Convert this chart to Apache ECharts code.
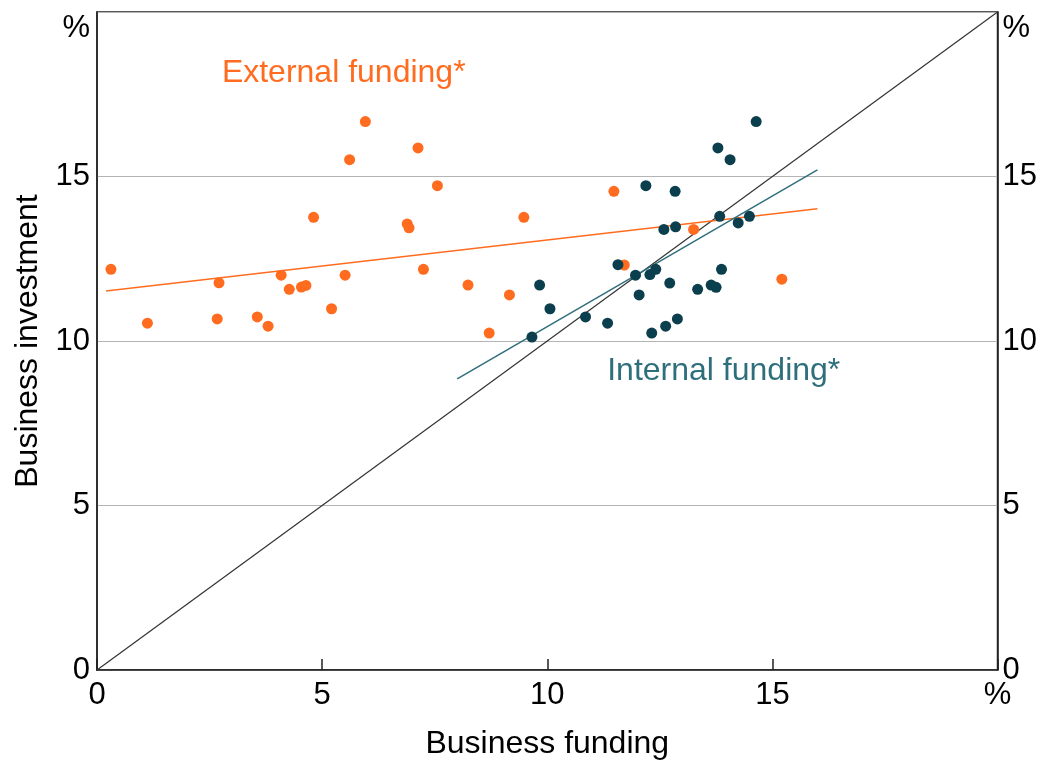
<!DOCTYPE html>
<html>
<head>
<meta charset="utf-8">
<script src="https://cdn.jsdelivr.net/npm/echarts@6/dist/echarts.min.js"></script>
<style>
html,body{margin:0;padding:0;background:#fff;}
#chart{width:1040px;height:765px;}
</style>
</head>
<body>
<div id="chart"></div>
<script>
// Business funding (x, %) vs business investment (y, %)
const externalFunding = [
  [0.31,12.18],[1.12,10.54],[2.71,11.77],[2.67,10.67],[3.56,10.73],[3.80,10.45],
  [4.09,12.00],[4.27,11.57],[4.54,11.64],[4.64,11.69],[4.81,13.76],[5.21,10.98],
  [5.51,12.00],[5.61,15.51],[5.96,16.67],[6.89,13.56],[6.93,13.44],[7.13,15.87],
  [7.25,12.18],[7.56,14.72],[8.24,11.70],[8.71,10.24],[9.16,11.40],[9.48,13.76],
  [11.48,14.55],[11.71,12.31],[13.25,13.39],[15.21,11.88]
];
const internalFunding = [
  [14.64,16.67],[13.79,15.87],[14.06,15.51],[12.19,14.72],[12.84,14.55],[13.83,13.79],
  [12.59,13.39],[12.85,13.47],[14.24,13.59],[14.49,13.79],[11.57,12.32],[11.96,12.00],
  [12.28,12.02],[12.41,12.18],[13.87,12.18],[12.72,11.76],[12.04,11.40],[13.34,11.57],
  [13.64,11.70],[13.75,11.63],[9.83,11.70],[10.06,10.98],[10.85,10.73],[11.34,10.54],
  [12.89,10.67],[12.63,10.45],[12.32,10.24],[9.66,10.12]
];
const externalFit = [[0.2,11.52],[16,14.02]];
const internalFit = [[8,8.85],[16,15.2]];
const diagonal = [[0,0],[20,20]];
const xTicks = {0:'0',5:'5',10:'10',15:'15',20:'%'};
const yTicks = {0:'0',5:'5',10:'10',15:'15',20:'%'};
const externalLabelPos = [[5.48,18.13]];
const internalLabelPos = [[13.92,9.09]];

const ORANGE = '#ff6c1f';
const DARK = '#0b3f4d';
const TEAL = '#2f6f7c';
const FONT = '"Liberation Sans", Arial, sans-serif';

const chart = echarts.init(document.getElementById('chart'));
function yFmt(v){ return v === 20 ? '{p|%}' : (yTicks[v] !== undefined ? yTicks[v] : ''); }
const yLabel = {
  fontSize: 31, color: '#000', fontFamily: FONT,
  formatter: yFmt,
  rich: { p: { fontSize: 31, color: '#000', fontFamily: FONT, padding: [32,0,0,0] } }
};
chart.setOption({
  animation: false,
  backgroundColor: '#fff',
  grid: { left: 97, right: 42, top: 12, bottom: 91, show: true, borderColor: '#222', borderWidth: 1.5, containLabel: false },
  xAxis: {
    type: 'value', min: 0, max: 20, interval: 5,
    axisLine: { show: true, lineStyle: { color: '#222', width: 1.5 } },
    axisTick: { show: true, inside: true, length: 11, lineStyle: { color: '#222', width: 1.5 } },
    axisLabel: { fontSize: 31, color: '#000', fontFamily: FONT, margin: 10, formatter: v => xTicks[v] !== undefined ? xTicks[v] : '' },
    splitLine: { show: false },
    name: 'Business funding', nameLocation: 'middle', nameGap: 58,
    nameTextStyle: { fontSize: 32, color: '#000', fontFamily: FONT }
  },
  yAxis: [
    {
      type: 'value', min: 0, max: 20, interval: 5, position: 'left',
      axisLine: { show: true, lineStyle: { color: '#222', width: 1.5 } },
      axisTick: { show: false },
      axisLabel: Object.assign({ margin: 7 }, yLabel),
      splitLine: { show: true, lineStyle: { color: '#b4b4b4', width: 1.2 } },
      name: 'Business investment', nameLocation: 'middle', nameGap: 50, nameRotate: 90,
      nameTextStyle: { fontSize: 32, color: '#000', fontFamily: FONT }
    },
    {
      type: 'value', min: 0, max: 20, interval: 5, position: 'right',
      axisLine: { show: true, lineStyle: { color: '#222', width: 1.5 } },
      axisTick: { show: false },
      axisLabel: Object.assign({ margin: 5 }, yLabel),
      splitLine: { show: false }
    }
  ],
  series: [
    { type: 'line', data: diagonal, symbol: 'none', lineStyle: { color: '#333', width: 1.2 }, z: 1 },
    { type: 'line', data: externalFit, symbol: 'none', lineStyle: { color: ORANGE, width: 1.5 }, z: 2 },
    { type: 'line', data: internalFit, symbol: 'none', lineStyle: { color: TEAL, width: 1.5 }, z: 2 },
    { type: 'scatter', data: externalFunding, symbolSize: 11, itemStyle: { color: ORANGE, opacity: 1 }, z: 3 },
    { type: 'scatter', data: internalFunding, symbolSize: 11, itemStyle: { color: DARK, opacity: 1 }, z: 4 },
    { type: 'scatter', data: externalLabelPos, symbolSize: 0, silent: true, itemStyle: { opacity: 1 },
      label: { show: true, position: 'inside', formatter: 'External funding*', fontSize: 32, color: ORANGE, opacity: 1, fontFamily: FONT } },
    { type: 'scatter', data: internalLabelPos, symbolSize: 0, silent: true, itemStyle: { opacity: 1 },
      label: { show: true, position: 'inside', formatter: 'Internal funding*', fontSize: 32, color: TEAL, opacity: 1, fontFamily: FONT } }
  ]
});
</script>
</body>
</html>
